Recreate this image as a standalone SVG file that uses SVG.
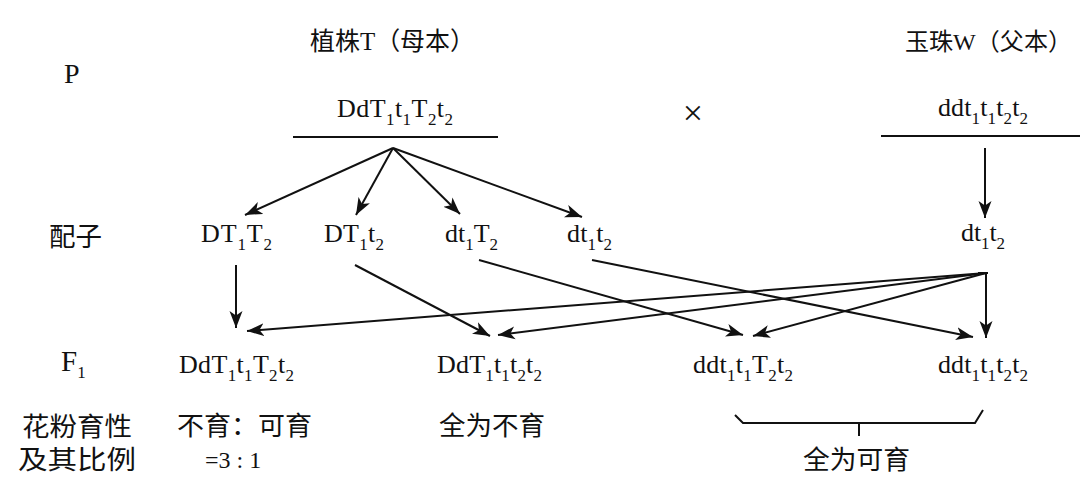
<svg xmlns="http://www.w3.org/2000/svg" width="1080" height="488" viewBox="0 0 1080 488">
<style>
.g{font-family:"Liberation Serif","Times New Roman",serif;font-size:26px;fill:#111}
.s{font-size:17px}
.c{font-family:"Liberation Serif","Noto Sans CJK SC",sans-serif;font-size:26px;fill:#111}
.ln{stroke:#111;stroke-width:2;fill:none}
.ar{stroke:#111;stroke-width:2;fill:none;marker-end:url(#ah)}
</style>
<defs>
<marker id="ah" markerUnits="userSpaceOnUse" markerWidth="18" markerHeight="14" refX="17" refY="7" orient="auto">
<path d="M0,0.5 L17,7 L0,13.5 L4.5,7 z" fill="#111"/>
</marker>
</defs>
<rect width="1080" height="488" fill="#fff"/>

<g id="labels">
<text class="g" x="64" y="83" style="font-size:28px">P</text>
<text class="c" x="49" y="246" textLength="53" lengthAdjust="spacingAndGlyphs">配子</text>
<text class="g" x="61" y="371" style="font-size:29px">F<tspan class="s" dy="7">1</tspan></text>
<text class="c" x="22" y="436" textLength="110" lengthAdjust="spacingAndGlyphs">花粉育性</text>
<text class="c" x="18" y="469" textLength="118" lengthAdjust="spacingAndGlyphs">及其比例</text>
</g>

<g id="parent-mother">
<text class="c" x="310" y="50" style="font-size:25px" textLength="165" lengthAdjust="spacingAndGlyphs">植株T（母本）</text>
<text class="g" x="337" y="117" textLength="116">DdT<tspan class="s" dy="8">1</tspan><tspan dy="-8">t</tspan><tspan class="s" dy="8">1</tspan><tspan dy="-8">T</tspan><tspan class="s" dy="8">2</tspan><tspan dy="-8">t</tspan><tspan class="s" dy="8">2</tspan></text>
<line class="ln" x1="293" y1="137" x2="498" y2="137" stroke-width="1.6"/>
</g>

<g id="cross">
<text class="g" x="693" y="125" text-anchor="middle" style="font-size:36px">×</text>
</g>

<g id="parent-father">
<text class="c" x="905" y="50" style="font-size:24px" textLength="167" lengthAdjust="spacingAndGlyphs">玉珠W（父本）</text>
<text class="g" x="938" y="116" textLength="90">ddt<tspan class="s" dy="8">1</tspan><tspan dy="-8">t</tspan><tspan class="s" dy="8">1</tspan><tspan dy="-8">t</tspan><tspan class="s" dy="8">2</tspan><tspan dy="-8">t</tspan><tspan class="s" dy="8">2</tspan></text>
<line class="ln" x1="881" y1="136" x2="1080" y2="136" stroke-width="1.6"/>
</g>

<g id="gamete-DT1T2">
<text class="g" x="201" y="242" textLength="71">DT<tspan class="s" dy="8">1</tspan><tspan dy="-8">T</tspan><tspan class="s" dy="8">2</tspan></text>
</g>
<g id="gamete-DT1t2">
<text class="g" x="324" y="242" textLength="60">DT<tspan class="s" dy="8">1</tspan><tspan dy="-8">t</tspan><tspan class="s" dy="8">2</tspan></text>
</g>
<g id="gamete-dt1T2">
<text class="g" x="445" y="242" textLength="53">dt<tspan class="s" dy="8">1</tspan><tspan dy="-8">T</tspan><tspan class="s" dy="8">2</tspan></text>
</g>
<g id="gamete-dt1t2">
<text class="g" x="567" y="242" textLength="45">dt<tspan class="s" dy="8">1</tspan><tspan dy="-8">t</tspan><tspan class="s" dy="8">2</tspan></text>
</g>
<g id="gamete-father">
<text class="g" x="961" y="241" textLength="44">dt<tspan class="s" dy="8">1</tspan><tspan dy="-8">t</tspan><tspan class="s" dy="8">2</tspan></text>
</g>

<g id="f1-1">
<text class="g" x="179" y="373" textLength="115">DdT<tspan class="s" dy="8">1</tspan><tspan dy="-8">t</tspan><tspan class="s" dy="8">1</tspan><tspan dy="-8">T</tspan><tspan class="s" dy="8">2</tspan><tspan dy="-8">t</tspan><tspan class="s" dy="8">2</tspan></text>
<text class="c" x="177" y="435" textLength="135" lengthAdjust="spacingAndGlyphs">不育：可育</text>
<text class="g" x="205" y="468" style="font-size:24px">=3 : 1</text>
</g>
<g id="f1-2">
<text class="g" x="437" y="373" textLength="105">DdT<tspan class="s" dy="8">1</tspan><tspan dy="-8">t</tspan><tspan class="s" dy="8">1</tspan><tspan dy="-8">t</tspan><tspan class="s" dy="8">2</tspan><tspan dy="-8">t</tspan><tspan class="s" dy="8">2</tspan></text>
<text class="c" x="439" y="435" textLength="106" lengthAdjust="spacingAndGlyphs">全为不育</text>
</g>
<g id="f1-3">
<text class="g" x="693" y="373" textLength="100">ddt<tspan class="s" dy="8">1</tspan><tspan dy="-8">t</tspan><tspan class="s" dy="8">1</tspan><tspan dy="-8">T</tspan><tspan class="s" dy="8">2</tspan><tspan dy="-8">t</tspan><tspan class="s" dy="8">2</tspan></text>
</g>
<g id="f1-4">
<text class="g" x="938" y="373" textLength="90">ddt<tspan class="s" dy="8">1</tspan><tspan dy="-8">t</tspan><tspan class="s" dy="8">1</tspan><tspan dy="-8">t</tspan><tspan class="s" dy="8">2</tspan><tspan dy="-8">t</tspan><tspan class="s" dy="8">2</tspan></text>
</g>
<g id="fertile-group">
<polyline class="ln" stroke-width="1.6" points="735,415 743,423 975,423 983,410"/>
<line class="ln" stroke-width="1.6" x1="859" y1="423" x2="859" y2="436"/>
<text class="c" x="803" y="469" textLength="107" lengthAdjust="spacingAndGlyphs">全为可育</text>
</g>

<g id="connectors">
<line class="ar" x1="393" y1="148" x2="245" y2="215"/>
<line class="ar" x1="393" y1="148" x2="356" y2="215"/>
<line class="ar" x1="393" y1="148" x2="460" y2="214"/>
<line class="ar" x1="393" y1="148" x2="582" y2="217"/>
<line class="ar" x1="985" y1="148" x2="985" y2="218"/>
<line class="ar" x1="236" y1="265" x2="236" y2="328"/>
<line class="ar" x1="355" y1="265" x2="490" y2="336"/>
<line class="ar" x1="479" y1="260" x2="743" y2="335"/>
<line class="ar" x1="592" y1="260" x2="973" y2="337"/>
<line class="ln" x1="978" y1="273" x2="988" y2="273"/>
<line class="ar" x1="986" y1="273" x2="247" y2="331"/>
<line class="ar" x1="986" y1="273" x2="498" y2="335"/>
<line class="ar" x1="986" y1="273" x2="753" y2="336"/>
<line class="ar" x1="986" y1="273" x2="986" y2="338"/>
</g>
</svg>
